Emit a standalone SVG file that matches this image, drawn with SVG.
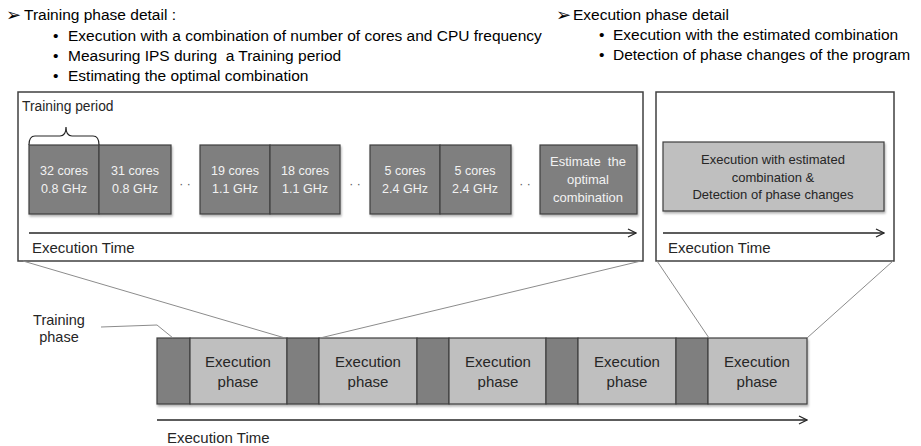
<svg xmlns="http://www.w3.org/2000/svg" width="921" height="446" viewBox="0 0 921 446">
<style>
text{font-family:"Liberation Sans",Arial,sans-serif;fill:#262626;white-space:pre}
.h{font-size:15.5px;fill:#000}
.sym{font-family:"DejaVu Sans",sans-serif;font-size:18px;fill:#000}
.dk{fill:#7f7f7f;stroke:#3f3f3f;stroke-width:1.2}
.lt{fill:#bfbfbf;stroke:#3f3f3f;stroke-width:1.2}
.frame{fill:#fff;stroke:#404040;stroke-width:1.5}
.wt{font-size:12.5px;fill:#f2f2f2;text-anchor:middle}
.et{font-size:15px}
.ph{font-size:15px;text-anchor:middle}
.zl{fill:none;stroke:#8c8c8c;stroke-width:1}
.ax{stroke:#262626;stroke-width:1.3;fill:none}
.dots{font-size:12px;fill:#595959;text-anchor:middle}
</style>
<defs>
<marker id="ah" viewBox="0 0 10 10" refX="9" refY="5" markerWidth="10" markerHeight="10" markerUnits="userSpaceOnUse" orient="auto">
<path d="M1,1 L9,5 L1,9" fill="none" stroke="#262626" stroke-width="1.3"/>
</marker>
<filter id="sh" x="-10%" y="-10%" width="120%" height="125%">
<feDropShadow dx="1" dy="2" stdDeviation="1.2" flood-color="#000" flood-opacity="0.3"/>
</filter>
</defs>

<g id="header-training">
<text class="sym" x="6" y="21">➢</text>
<text class="h" x="24" y="20">Training phase detail :</text>
<text class="h" x="53" y="41">•</text><text class="h" x="68" y="41">Execution with a combination of number of cores and CPU frequency</text>
<text class="h" x="53" y="61">•</text><text class="h" x="68" y="61" xml:space="preserve">Measuring IPS during  a Training period</text>
<text class="h" x="53" y="81">•</text><text class="h" x="68" y="81">Estimating the optimal combination</text>
</g>
<g id="header-execution">
<text class="sym" x="556" y="21">➢</text>
<text class="h" x="573" y="20">Execution phase detail</text>
<text class="h" x="599" y="40">•</text><text class="h" x="613" y="40">Execution with the estimated combination</text>
<text class="h" x="599" y="60">•</text><text class="h" x="613" y="60">Detection of phase changes of the program</text>
</g>

<g id="training-detail">
<rect class="frame" x="18" y="92" width="625" height="169"/>
<text x="22" y="111" style="font-size:13.8px">Training period</text>
<path d="M29,145 Q29,136 35,136 L60,136 Q66,136 66,127 Q66,136 72,136 L93,136 Q99,136 99,145" fill="none" stroke="#262626" stroke-width="1.2"/>
<g filter="url(#sh)">
<rect class="dk" x="29" y="145" width="70" height="69"/>
<rect class="dk" x="99" y="145" width="72" height="69"/>
<rect class="dk" x="200" y="145" width="70" height="69"/>
<rect class="dk" x="270" y="145" width="70" height="69"/>
<rect class="dk" x="370" y="145" width="70" height="69"/>
<rect class="dk" x="440" y="145" width="71" height="69"/>
<rect class="dk" x="540" y="145" width="97" height="69"/>
</g>
<text class="wt" x="64" y="175">32 cores</text><text class="wt" x="64" y="193">0.8 GHz</text>
<text class="wt" x="135" y="175">31 cores</text><text class="wt" x="135" y="193">0.8 GHz</text>
<text class="wt" x="235" y="175">19 cores</text><text class="wt" x="235" y="193">1.1 GHz</text>
<text class="wt" x="305" y="175">18 cores</text><text class="wt" x="305" y="193">1.1 GHz</text>
<text class="wt" x="405" y="175">5 cores</text><text class="wt" x="405" y="193">2.4 GHz</text>
<text class="wt" x="475" y="175">5 cores</text><text class="wt" x="475" y="193">2.4 GHz</text>
<text class="wt" x="588" y="166" style="font-size:13px" xml:space="preserve">Estimate  the</text>
<text class="wt" x="588" y="184" style="font-size:13px">optimal</text>
<text class="wt" x="588" y="202" style="font-size:13px">combination</text>
<text class="dots" x="185" y="188">· ·</text>
<text class="dots" x="355" y="188">· ·</text>
<text class="dots" x="525" y="188">· ·</text>
<text class="et" x="32" y="253">Execution Time</text>
</g>

<g id="execution-detail">
<rect class="frame" x="656" y="92" width="238" height="169"/>
<rect class="lt" x="663" y="142" width="221" height="69" filter="url(#sh)"/>
<text x="773" y="164" style="font-size:13px;text-anchor:middle">Execution with estimated</text>
<text x="773" y="182" style="font-size:13px;text-anchor:middle">combination &amp;</text>
<text x="773" y="199" style="font-size:13px;text-anchor:middle">Detection of phase changes</text>
<text class="et" x="668" y="253">Execution Time</text>
</g>

<g id="timeline">
<g filter="url(#sh)">
<rect class="dk" x="157" y="338" width="33" height="66"/>
<rect class="lt" x="190" y="338" width="97" height="66"/>
<rect class="dk" x="287" y="338" width="32" height="66"/>
<rect class="lt" x="319" y="338" width="98" height="66"/>
<rect class="dk" x="417" y="338" width="32" height="66"/>
<rect class="lt" x="449" y="338" width="97" height="66"/>
<rect class="dk" x="546" y="338" width="32" height="66"/>
<rect class="lt" x="578" y="338" width="98" height="66"/>
<rect class="dk" x="676" y="338" width="32" height="66"/>
<rect class="lt" x="708" y="338" width="99" height="66"/>
</g>
<text class="ph" x="238" y="367">Execution</text><text class="ph" x="238" y="387">phase</text>
<text class="ph" x="368" y="367">Execution</text><text class="ph" x="368" y="387">phase</text>
<text class="ph" x="498" y="367">Execution</text><text class="ph" x="498" y="387">phase</text>
<text class="ph" x="627" y="367">Execution</text><text class="ph" x="627" y="387">phase</text>
<text class="ph" x="757" y="367">Execution</text><text class="ph" x="757" y="387">phase</text>
<text class="et" x="167" y="443">Execution Time</text>
</g>

<g id="training-phase-label">
<text x="59" y="325" style="font-size:14.5px;text-anchor:middle">Training</text>
<text x="59" y="342" style="font-size:14.5px;text-anchor:middle">phase</text>
</g>

<g id="connectors">
<line class="ax" x1="29" y1="233" x2="636" y2="233" marker-end="url(#ah)"/>
<line class="ax" x1="663" y1="233" x2="884" y2="233" marker-end="url(#ah)"/>
<line class="ax" x1="157" y1="420" x2="807" y2="420" marker-end="url(#ah)"/>
<line class="zl" x1="23" y1="261" x2="285" y2="338"/>
<line class="zl" x1="641" y1="261" x2="320" y2="338"/>
<line class="zl" x1="657" y1="261" x2="709" y2="338"/>
<line class="zl" x1="893" y1="261" x2="807" y2="338"/>
<polyline class="zl" points="101,327 157,325 173,338"/>
</g>
</svg>
